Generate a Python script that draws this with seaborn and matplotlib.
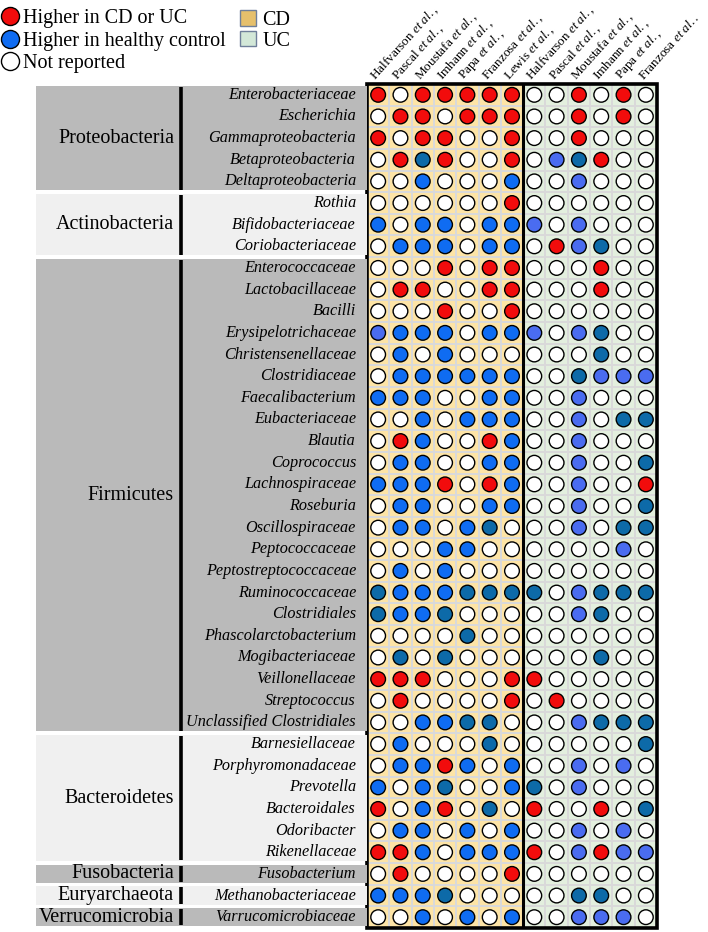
import numpy as np
import pandas as pd
import matplotlib
matplotlib.use("Agg")
import matplotlib.pyplot as plt
import seaborn as sns
from matplotlib.colors import ListedColormap
from matplotlib.lines import Line2D
from matplotlib.patches import Patch, Rectangle

# ---------------- data ----------------
phyla = ["Proteobacteria", "Actinobacteria", "Firmicutes", "Bacteroidetes",
         "Fusobacteria", "Euryarchaeota", "Verrucomicrobia"]
phylum_sizes = [5, 3, 22, 6, 1, 1, 1]

taxa = ["Enterobacteriaceae", "Escherichia", "Gammaproteobacteria", "Betaproteobacteria",
        "Deltaproteobacteria", "Rothia", "Bifidobacteriaceae", "Coriobacteriaceae",
        "Enterococcaceae", "Lactobacillaceae", "Bacilli", "Erysipelotrichaceae",
        "Christensenellaceae", "Clostridiaceae", "Faecalibacterium", "Eubacteriaceae",
        "Blautia", "Coprococcus", "Lachnospiraceae", "Roseburia", "Oscillospiraceae",
        "Peptococcaceae", "Peptostreptococcaceae", "Ruminococcaceae", "Clostridiales",
        "Phascolarctobacterium", "Mogibacteriaceae", "Veillonellaceae", "Streptococcus",
        "Unclassified Clostridiales", "Barnesiellaceae", "Porphyromonadaceae", "Prevotella",
        "Bacteroidales", "Odoribacter", "Rikenellaceae", "Fusobacterium",
        "Methanobacteriaceae", "Varrucomicrobiaceae"]

cd_studies = ["Halfvarson", "Pascal", "Moustafa", "Imhann", "Papa", "Franzosa", "Lewis"]
uc_studies = ["Halfvarson", "Pascal", "Moustafa", "Imhann", "Papa", "Franzosa"]
cd_suffix = [",", ",", ",", ",", ",", ",", ","]
uc_suffix = [",", ",", ",", ",", ",", "."]

# R = higher in disease, B/P/T = higher in healthy control (three shades), W = not reported
cd_status = ["RWRRRRR", "WRRWRRR", "RWRRWWR", "WRTRWWR", "WWBWWWB",
             "WWWWWWR", "BWBBWBB", "WBBBWBB",
             "WWWRWRR", "WRRWWRR", "WWWRWWR", "PBBBWBB", "WBWBWWW", "WBBBBBB",
             "BBBWWBB", "WWBWBBB", "WRBWWRB", "WBBWWBB", "BBBRWRB", "WBBWWBB",
             "WBBWBTW", "WWWBBWW", "WBWBWWW", "TBBBTTT", "TBBTWWW", "WWWWTWW",
             "WTWTWWW", "RRRWWWR", "WRWWWWR", "WWBBTTW",
             "WBWWWTW", "WBBRBWB", "BWBTWWB", "RWBRWTW", "WBBWBWB", "RRBWBBB",
             "WRWWWWR", "BBBTWWW", "WWBWBWB"]
uc_status = ["WWRWRW", "WWRWRW", "WWRWWW", "WPTRWW", "WWPWWW",
             "WWWWWW", "PWPWWW", "WRPTWW",
             "WWWRWW", "WWWRWW", "WWWWWW", "PWPTWW", "WWWTWW", "WWTPPP",
             "WWPWWW", "WWPWTT", "WWPWWW", "WWPWWT", "WWPWWR", "WWPWWT",
             "WWPWTT", "WWWWPW", "WWWWWW", "TWPTTT", "WWPTWW", "WWWWWW",
             "WWWTWW", "RWWWWW", "WRWWWW", "WWPTTT",
             "WWWWWT", "WWPWPW", "TWPWWW", "RWWRWT", "WWPWPW", "RWPRPP",
             "WWWWWW", "WWTTWW", "WWPPPW"]

# ---------------- styling ----------------
palette = {"R": "#f20c0c", "B": "#0f6cf2", "P": "#4a6cf0", "T": "#0d6aa8", "W": "#ffffff"}
cd_bg, uc_bg = "#fde4a6", "#e3efde"
band_dark, band_light = "#bababa", "#f0f0f0"

plt.rcParams["font.family"] = ["Liberation Serif", "DejaVu Serif"]
plt.rcParams["mathtext.fontset"] = "custom"
plt.rcParams["mathtext.rm"] = "Liberation Serif"
plt.rcParams["mathtext.it"] = "Liberation Serif:italic"

W, H = 708, 932
fig = plt.figure(figsize=(W / 100, H / 100), dpi=100)

gx0, gx1, gy0, gy1 = 367, 657, 84, 928
ax = fig.add_axes([gx0 / W, 1 - gy1 / H, (gx1 - gx0) / W, (gy1 - gy0) / H])
axl = fig.add_axes([36 / W, 1 - gy1 / H, (gx0 - 36) / W, (gy1 - gy0) / H])

n_rows = len(taxa)
n_cd, n_uc = len(cd_studies), len(uc_studies)
n_cols = n_cd + n_uc

# background cells (CD / UC)
bg = np.array([[0] * n_cd + [1] * n_uc for _ in range(n_rows)])
sns.heatmap(bg, ax=ax, cmap=ListedColormap([cd_bg, uc_bg]), cbar=False,
            linewidths=1.3, linecolor="#d9d9d9", xticklabels=False, yticklabels=False)

# dots
records = []
for i in range(n_rows):
    codes = cd_status[i] + uc_status[i]
    for j, c in enumerate(codes):
        records.append({"row": i + 0.5, "col": j + 0.5, "status": c})
df = pd.DataFrame(records)
sns.scatterplot(data=df, x="col", y="row", hue="status", palette=palette, s=112,
                edgecolor="black", linewidth=1.0, legend=False, ax=ax, zorder=3)
ax.set_xlim(0, n_cols)
ax.set_ylim(n_rows, 0)
ax.set_xlabel("")
ax.set_ylabel("")

# frame and CD/UC separator
ax.add_patch(Rectangle((0, 0), n_cols, n_rows, fill=False, lw=2.6, ec="black",
                       zorder=5, clip_on=False))
ax.plot([n_cd, n_cd], [0, n_rows], color="black", lw=2.2, zorder=5)

# column labels
col_labels = ([f"{s} $\\it{{et\\ al.}}${suf}" for s, suf in zip(cd_studies, cd_suffix)] +
              [f"{s} $\\it{{et\\ al.}}${suf}" for s, suf in zip(uc_studies, uc_suffix)])
ax.xaxis.tick_top()
ax.set_xticks(np.arange(n_cols) + 0.5)
ax.set_xticklabels(col_labels, rotation=48, ha="left", va="bottom",
                   rotation_mode="anchor", fontsize=9.5)
ax.tick_params(axis="x", length=0, pad=1)
ax.set_yticks([])

# left label panel
axl.set_xlim(36, gx0)
axl.set_ylim(n_rows, 0)
axl.axis("off")
start = 0
gap = 0.08
for k, (name, size) in enumerate(zip(phyla, phylum_sizes)):
    col = band_dark if k % 2 == 0 else band_light
    axl.add_patch(Rectangle((36, start + gap), gx0 - 36, size - 2 * gap,
                            fc=col, ec="none", zorder=0))
    axl.plot([181, 181], [start + 0.12, start + size - 0.12], color="black",
             lw=2.6, solid_capstyle="butt", zorder=2)
    axl.text(174, start + size / 2, name, ha="right", va="center", fontsize=14.5)
    start += size
for i, t in enumerate(taxa):
    axl.text(356, i + 0.5, t, ha="right", va="center", fontsize=11.7, style="italic")

# legends
dot_handles = [Line2D([], [], marker="o", ls="", markersize=13, markeredgecolor="black",
                      markeredgewidth=1.0, markerfacecolor=c)
               for c in [palette["R"], palette["B"], "#ffffff"]]
leg1 = fig.legend(dot_handles, ["Higher in CD or UC", "Higher in healthy control", "Not reported"],
                  loc="upper left", bbox_to_anchor=(-0.021, 1.003), frameon=False,
                  fontsize=14.5, handletextpad=0.0, labelspacing=0.17, handlelength=1.3,
                  borderaxespad=0.2)
sq_handles = [Patch(fc="#e6c06c", ec="#6f7f9a", lw=1.0), Patch(fc="#d3e8d8", ec="#6f7f9a", lw=1.0)]
leg2 = fig.legend(sq_handles, ["CD", "UC"], loc="upper left",
                  bbox_to_anchor=(228 / W, 1.002), frameon=False, fontsize=14.5,
                  handlelength=0.8, handleheight=0.8, handletextpad=0.3,
                  labelspacing=0.05, borderaxespad=0.2)

fig.savefig("out.png", dpi=100)
